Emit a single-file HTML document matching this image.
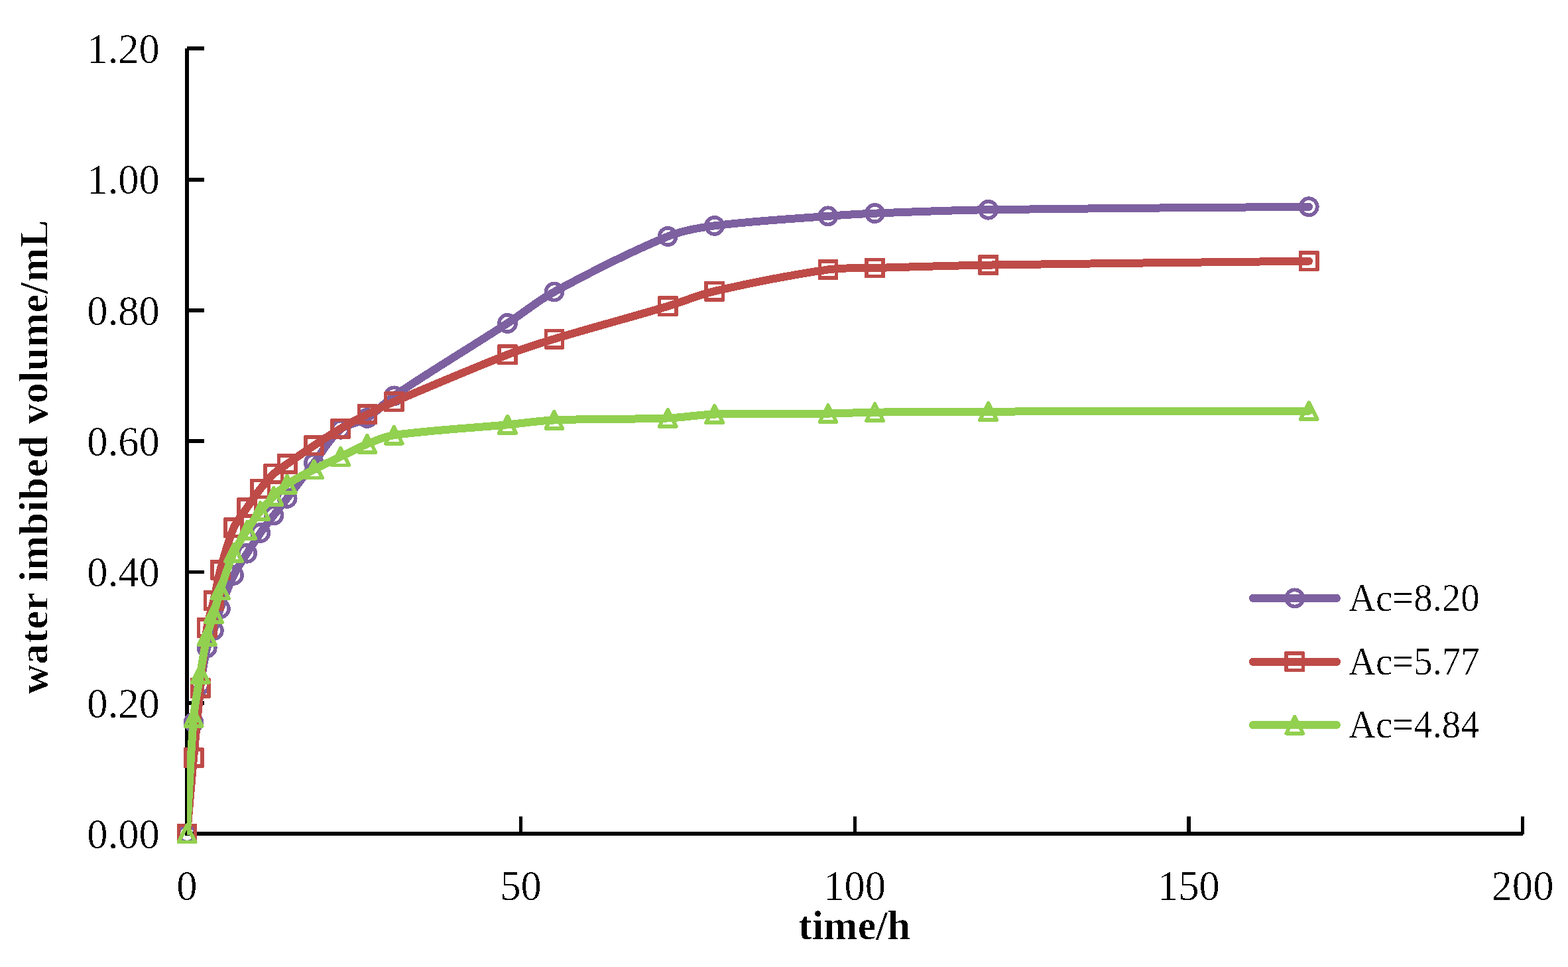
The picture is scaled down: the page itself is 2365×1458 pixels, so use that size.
<!DOCTYPE html>
<html lang="en"><head><meta charset="utf-8"><title>water imbibed volume vs time</title>
<style>html,body{margin:0;padding:0;background:#fff;}body{width:2365px;height:1458px;overflow:hidden;}svg{display:block;}text{font-family:"Liberation Serif",serif;fill:#000;}.tick,.leg{filter:url(#bin);}.title{filter:url(#binb);}.tick{font-size:62.6px;}.title{font-size:62.0px;font-weight:bold;}.leg{font-size:57.0px;}</style>
</head><body>
<svg role="img" aria-label="Line chart of water imbibed volume versus time" width="2365" height="1458" viewBox="0 0 2365 1458">
<rect width="2365" height="1458" fill="#fff"/>
<g fill="#000" shape-rendering="crispEdges">
<rect x="279" y="73" width="6" height="1187"/>
<rect x="279" y="1254" width="2018" height="6"/>
<rect x="282" y="70" width="26" height="6"/>
<rect x="282" y="268" width="26" height="6"/>
<rect x="282" y="465" width="26" height="6"/>
<rect x="282" y="662" width="26" height="6"/>
<rect x="282" y="860" width="26" height="5"/>
<rect x="282" y="1057" width="26" height="6"/>
<rect x="783" y="1231" width="5" height="27"/>
<rect x="1287" y="1231" width="5" height="27"/>
<rect x="1790" y="1231" width="6" height="27"/>
<rect x="2294" y="1231" width="5" height="27"/>
</g>
<text class="tick" transform="translate(240.9 1278.8) scale(1 1.000)" text-anchor="end">0.00</text>
<text class="tick" transform="translate(240.9 1081.5) scale(1 1.000)" text-anchor="end">0.20</text>
<text class="tick" transform="translate(240.9 884.1) scale(1 1.000)" text-anchor="end">0.40</text>
<text class="tick" transform="translate(240.9 686.8) scale(1 1.000)" text-anchor="end">0.60</text>
<text class="tick" transform="translate(240.9 489.5) scale(1 1.000)" text-anchor="end">0.80</text>
<text class="tick" transform="translate(240.9 292.1) scale(1 1.000)" text-anchor="end">1.00</text>
<text class="tick" transform="translate(240.9 94.8) scale(1 1.000)" text-anchor="end">1.20</text>
<text class="tick" transform="translate(282.0 1356.6) scale(1 1.000)" text-anchor="middle">0</text>
<text class="tick" transform="translate(785.6 1356.6) scale(1 1.000)" text-anchor="middle">50</text>
<text class="tick" transform="translate(1289.2 1356.6) scale(1 1.000)" text-anchor="middle">100</text>
<text class="tick" transform="translate(1792.9 1356.6) scale(1 1.000)" text-anchor="middle">150</text>
<text class="tick" transform="translate(2296.5 1356.6) scale(1 1.000)" text-anchor="middle">200</text>
<text class="title" x="1288.5" y="1415.8" text-anchor="middle">time/h</text>
<text class="title" transform="translate(71.6 689) rotate(-90)" text-anchor="middle" style="letter-spacing:0.62px">water imbibed volume/mL</text>
<defs><filter id="bin" x="-5%" y="-20%" width="110%" height="140%" color-interpolation-filters="sRGB"><feComponentTransfer><feFuncA type="discrete" tableValues="0 0 0 1"/></feComponentTransfer></filter><filter id="binb" x="-5%" y="-20%" width="110%" height="140%" color-interpolation-filters="sRGB"><feComponentTransfer><feFuncA type="discrete" tableValues="0 0 0 0 1"/></feComponentTransfer></filter></defs>
<defs><clipPath id="plot"><rect x="282.1" y="0" width="2100" height="1258.9"/></clipPath></defs>
<g shape-rendering="crispEdges">
<path clip-path="url(#plot)" d="M282.00 1257.00 C282.00 1257.00 287.06 1144.98 292.07 1089.27 C293.78 1070.32 298.78 1051.77 302.14 1033.03 C305.50 1014.34 307.73 995.35 312.22 976.98 C314.44 967.89 319.26 959.53 322.29 950.64 C325.97 939.83 328.47 928.61 332.36 917.88 C338.55 900.82 344.66 883.57 352.51 867.27 C358.09 855.68 365.76 845.12 372.65 834.21 C379.19 823.87 385.77 813.53 392.80 803.53 C399.20 794.42 406.14 785.70 412.94 776.89 C419.57 768.30 426.49 759.94 433.09 751.33 C446.63 733.66 459.75 715.66 473.38 698.05 C486.61 680.96 497.61 660.71 513.67 647.24 C524.47 638.18 541.76 638.09 553.96 630.47 C568.62 621.31 579.79 606.70 594.25 596.92 C650.30 559.01 708.65 524.28 765.48 487.40 C789.23 471.99 811.14 453.50 835.99 440.04 C891.72 409.85 948.81 380.55 1007.22 356.47 C1029.39 347.33 1053.86 343.41 1077.73 340.39 C1134.44 333.21 1191.85 330.31 1248.96 325.88 C1272.43 324.06 1295.94 322.58 1319.47 321.64 C1376.52 319.36 1433.60 317.07 1490.70 316.21 C1651.84 313.78 1974.18 311.77 1974.18 311.77" fill="none" stroke="#7D60A0" stroke-width="12.0" stroke-linecap="round" stroke-linejoin="round"/>
<circle cx="282.00" cy="1257.00" r="12.65" fill="none" stroke="#7D60A0" stroke-width="5.60"/>
<circle cx="292.07" cy="1089.27" r="12.65" fill="none" stroke="#7D60A0" stroke-width="5.60"/>
<circle cx="302.14" cy="1033.03" r="12.65" fill="none" stroke="#7D60A0" stroke-width="5.60"/>
<circle cx="312.22" cy="976.98" r="12.65" fill="none" stroke="#7D60A0" stroke-width="5.60"/>
<circle cx="322.29" cy="950.64" r="12.65" fill="none" stroke="#7D60A0" stroke-width="5.60"/>
<circle cx="332.36" cy="917.88" r="12.65" fill="none" stroke="#7D60A0" stroke-width="5.60"/>
<circle cx="352.51" cy="867.27" r="12.65" fill="none" stroke="#7D60A0" stroke-width="5.60"/>
<circle cx="372.65" cy="834.21" r="12.65" fill="none" stroke="#7D60A0" stroke-width="5.60"/>
<circle cx="392.80" cy="803.53" r="12.65" fill="none" stroke="#7D60A0" stroke-width="5.60"/>
<circle cx="412.94" cy="776.89" r="12.65" fill="none" stroke="#7D60A0" stroke-width="5.60"/>
<circle cx="433.09" cy="751.33" r="12.65" fill="none" stroke="#7D60A0" stroke-width="5.60"/>
<circle cx="473.38" cy="698.05" r="12.65" fill="none" stroke="#7D60A0" stroke-width="5.60"/>
<circle cx="513.67" cy="647.24" r="12.65" fill="none" stroke="#7D60A0" stroke-width="5.60"/>
<circle cx="553.96" cy="630.47" r="12.65" fill="none" stroke="#7D60A0" stroke-width="5.60"/>
<circle cx="594.25" cy="596.92" r="12.65" fill="none" stroke="#7D60A0" stroke-width="5.60"/>
<circle cx="765.48" cy="487.40" r="12.65" fill="none" stroke="#7D60A0" stroke-width="5.60"/>
<circle cx="835.99" cy="440.04" r="12.65" fill="none" stroke="#7D60A0" stroke-width="5.60"/>
<circle cx="1007.22" cy="356.47" r="12.65" fill="none" stroke="#7D60A0" stroke-width="5.60"/>
<circle cx="1077.73" cy="340.39" r="12.65" fill="none" stroke="#7D60A0" stroke-width="5.60"/>
<circle cx="1248.96" cy="325.88" r="12.65" fill="none" stroke="#7D60A0" stroke-width="5.60"/>
<circle cx="1319.47" cy="321.64" r="12.65" fill="none" stroke="#7D60A0" stroke-width="5.60"/>
<circle cx="1490.70" cy="316.21" r="12.65" fill="none" stroke="#7D60A0" stroke-width="5.60"/>
<circle cx="1974.18" cy="311.77" r="12.65" fill="none" stroke="#7D60A0" stroke-width="5.60"/>
</g>
<g shape-rendering="crispEdges">
<path clip-path="url(#plot)" d="M282.00 1257.00 C282.00 1257.00 288.57 1180.68 292.07 1142.55 C295.29 1107.51 298.55 1072.47 302.14 1037.47 C305.26 1007.15 307.63 976.67 312.22 946.59 C314.34 932.69 319.12 919.27 322.29 905.55 C325.83 890.20 328.18 874.55 332.36 859.37 C338.26 837.97 343.83 816.07 352.51 795.83 C357.26 784.76 365.78 775.47 372.65 765.44 C379.21 755.87 385.62 746.13 392.80 737.03 C399.05 729.09 405.58 721.19 412.94 714.33 C419.01 708.69 426.27 704.32 433.09 699.53 C446.41 690.18 459.80 680.89 473.38 671.91 C486.66 663.13 499.95 654.32 513.67 646.25 C526.81 638.53 540.33 631.39 553.96 624.55 C567.19 617.90 580.61 611.59 594.25 605.80 C651.12 581.66 707.97 557.29 765.48 534.76 C788.55 525.72 812.26 518.25 835.99 511.08 C892.84 493.91 950.30 478.71 1007.22 461.75 C1030.88 454.70 1053.70 444.55 1077.73 439.05 C1134.28 426.13 1191.60 414.80 1248.96 406.49 C1272.18 403.13 1295.96 404.70 1319.47 404.03 C1376.54 402.40 1433.61 400.49 1490.70 399.59 C1651.85 397.04 1974.18 393.67 1974.18 393.67" fill="none" stroke="#BE4B48" stroke-width="12.0" stroke-linecap="round" stroke-linejoin="round"/>
<path fill-rule="evenodd" fill="#BE4B48" d="M267.55 1241.55 H296.45 L297.45 1242.55 V1271.45 L296.45 1272.45 H267.55 L266.55 1271.45 V1242.55 Z M272.15 1247.15 H291.85 V1266.85 H272.15 Z"/>
<path fill-rule="evenodd" fill="#BE4B48" d="M277.62 1127.10 H306.52 L307.52 1128.10 V1157.00 L306.52 1158.00 H277.62 L276.62 1157.00 V1128.10 Z M282.22 1132.70 H301.92 V1152.40 H282.22 Z"/>
<path fill-rule="evenodd" fill="#BE4B48" d="M287.69 1022.02 H316.59 L317.59 1023.02 V1051.92 L316.59 1052.92 H287.69 L286.69 1051.92 V1023.02 Z M292.29 1027.62 H312.00 V1047.32 H292.29 Z"/>
<path fill-rule="evenodd" fill="#BE4B48" d="M297.77 931.14 H326.67 L327.67 932.14 V961.04 L326.67 962.04 H297.77 L296.77 961.04 V932.14 Z M302.37 936.74 H322.07 V956.44 H302.37 Z"/>
<path fill-rule="evenodd" fill="#BE4B48" d="M307.84 890.10 H336.74 L337.74 891.10 V920.00 L336.74 921.00 H307.84 L306.84 920.00 V891.10 Z M312.44 895.70 H332.14 V915.40 H312.44 Z"/>
<path fill-rule="evenodd" fill="#BE4B48" d="M317.91 843.92 H346.81 L347.81 844.92 V873.82 L346.81 874.82 H317.91 L316.91 873.82 V844.92 Z M322.51 849.52 H342.21 V869.22 H322.51 Z"/>
<path fill-rule="evenodd" fill="#BE4B48" d="M338.06 780.38 H366.96 L367.96 781.38 V810.28 L366.96 811.28 H338.06 L337.06 810.28 V781.38 Z M342.66 785.98 H362.36 V805.68 H342.66 Z"/>
<path fill-rule="evenodd" fill="#BE4B48" d="M358.20 749.99 H387.10 L388.10 750.99 V779.89 L387.10 780.89 H358.20 L357.20 779.89 V750.99 Z M362.80 755.59 H382.50 V775.29 H362.80 Z"/>
<path fill-rule="evenodd" fill="#BE4B48" d="M378.35 721.58 H407.25 L408.25 722.58 V751.48 L407.25 752.48 H378.35 L377.35 751.48 V722.58 Z M382.95 727.18 H402.65 V746.88 H382.95 Z"/>
<path fill-rule="evenodd" fill="#BE4B48" d="M398.49 698.88 H427.39 L428.39 699.88 V728.78 L427.39 729.78 H398.49 L397.49 728.78 V699.88 Z M403.09 704.48 H422.79 V724.18 H403.09 Z"/>
<path fill-rule="evenodd" fill="#BE4B48" d="M418.64 684.08 H447.54 L448.54 685.08 V713.98 L447.54 714.98 H418.64 L417.64 713.98 V685.08 Z M423.24 689.68 H442.94 V709.38 H423.24 Z"/>
<path fill-rule="evenodd" fill="#BE4B48" d="M458.93 656.46 H487.83 L488.83 657.46 V686.36 L487.83 687.36 H458.93 L457.93 686.36 V657.46 Z M463.53 662.06 H483.23 V681.76 H463.53 Z"/>
<path fill-rule="evenodd" fill="#BE4B48" d="M499.22 630.80 H528.12 L529.12 631.80 V660.70 L528.12 661.70 H499.22 L498.22 660.70 V631.80 Z M503.82 636.40 H523.52 V656.10 H503.82 Z"/>
<path fill-rule="evenodd" fill="#BE4B48" d="M539.51 609.10 H568.41 L569.41 610.10 V639.00 L568.41 640.00 H539.51 L538.51 639.00 V610.10 Z M544.11 614.70 H563.81 V634.40 H544.11 Z"/>
<path fill-rule="evenodd" fill="#BE4B48" d="M579.80 590.35 H608.70 L609.70 591.35 V620.25 L608.70 621.25 H579.80 L578.80 620.25 V591.35 Z M584.40 595.95 H604.10 V615.65 H584.40 Z"/>
<path fill-rule="evenodd" fill="#BE4B48" d="M751.03 519.31 H779.93 L780.93 520.31 V549.21 L779.93 550.21 H751.03 L750.03 549.21 V520.31 Z M755.63 524.91 H775.33 V544.61 H755.63 Z"/>
<path fill-rule="evenodd" fill="#BE4B48" d="M821.54 495.63 H850.44 L851.44 496.63 V525.53 L850.44 526.53 H821.54 L820.54 525.53 V496.63 Z M826.14 501.23 H845.84 V520.93 H826.14 Z"/>
<path fill-rule="evenodd" fill="#BE4B48" d="M992.77 446.30 H1021.67 L1022.67 447.30 V476.20 L1021.67 477.20 H992.77 L991.77 476.20 V447.30 Z M997.37 451.90 H1017.07 V471.60 H997.37 Z"/>
<path fill-rule="evenodd" fill="#BE4B48" d="M1063.28 423.60 H1092.18 L1093.18 424.60 V453.50 L1092.18 454.50 H1063.28 L1062.28 453.50 V424.60 Z M1067.88 429.20 H1087.58 V448.90 H1067.88 Z"/>
<path fill-rule="evenodd" fill="#BE4B48" d="M1234.51 391.04 H1263.41 L1264.41 392.04 V420.94 L1263.41 421.94 H1234.51 L1233.51 420.94 V392.04 Z M1239.11 396.64 H1258.81 V416.34 H1239.11 Z"/>
<path fill-rule="evenodd" fill="#BE4B48" d="M1305.02 388.58 H1333.92 L1334.92 389.58 V418.48 L1333.92 419.48 H1305.02 L1304.02 418.48 V389.58 Z M1309.62 394.18 H1329.32 V413.88 H1309.62 Z"/>
<path fill-rule="evenodd" fill="#BE4B48" d="M1476.25 384.14 H1505.15 L1506.15 385.14 V414.04 L1505.15 415.04 H1476.25 L1475.25 414.04 V385.14 Z M1480.85 389.74 H1500.55 V409.44 H1480.85 Z"/>
<path fill-rule="evenodd" fill="#BE4B48" d="M1959.73 378.22 H1988.63 L1989.63 379.22 V408.12 L1988.63 409.12 H1959.73 L1958.73 408.12 V379.22 Z M1964.33 383.82 H1984.03 V403.52 H1964.33 Z"/>
</g>
<g shape-rendering="crispEdges">
<path clip-path="url(#plot)" d="M282.00 1257.00 C282.00 1257.00 287.21 1140.42 292.07 1082.36 C293.93 1060.17 298.54 1038.25 302.14 1016.25 C305.26 997.24 308.04 978.11 312.22 959.32 C314.76 947.88 319.02 936.85 322.29 925.58 C325.74 913.67 328.49 901.54 332.36 889.76 C338.57 870.89 344.46 851.71 352.51 833.62 C357.89 821.52 365.50 810.38 372.65 799.19 C378.93 789.37 385.56 779.70 392.80 770.57 C398.99 762.76 405.90 755.44 412.94 748.37 C419.33 741.96 425.60 735.13 433.09 730.12 C445.75 721.64 459.75 714.93 473.38 707.92 C486.61 701.12 500.24 695.09 513.67 688.68 C527.10 682.27 540.19 675.00 553.96 669.44 C567.05 664.15 580.29 658.04 594.25 656.12 C650.80 648.34 708.41 645.69 765.48 640.33 C788.99 638.13 812.41 634.39 835.99 633.43 C892.99 631.10 950.20 632.56 1007.22 630.47 C1030.78 629.60 1054.17 625.22 1077.73 624.55 C1134.75 622.92 1191.89 624.26 1248.96 623.56 C1272.47 623.27 1295.96 621.87 1319.47 621.59 C1376.54 620.89 1433.62 620.77 1490.70 620.60 C1651.86 620.11 1974.18 619.61 1974.18 619.61" fill="none" stroke="#92D050" stroke-width="12.0" stroke-linecap="round" stroke-linejoin="round"/>
<path d="M282.00 1244.35 L294.65 1269.65 L269.35 1269.65 Z" fill="none" stroke="#92D050" stroke-width="5.60" stroke-linejoin="round"/>
<path d="M292.07 1069.71 L304.72 1095.01 L279.42 1095.01 Z" fill="none" stroke="#92D050" stroke-width="5.60" stroke-linejoin="round"/>
<path d="M302.14 1003.60 L314.79 1028.90 L289.50 1028.90 Z" fill="none" stroke="#92D050" stroke-width="5.60" stroke-linejoin="round"/>
<path d="M312.22 946.67 L324.87 971.97 L299.57 971.97 Z" fill="none" stroke="#92D050" stroke-width="5.60" stroke-linejoin="round"/>
<path d="M322.29 912.93 L334.94 938.23 L309.64 938.23 Z" fill="none" stroke="#92D050" stroke-width="5.60" stroke-linejoin="round"/>
<path d="M332.36 877.11 L345.01 902.41 L319.71 902.41 Z" fill="none" stroke="#92D050" stroke-width="5.60" stroke-linejoin="round"/>
<path d="M352.51 820.97 L365.16 846.27 L339.86 846.27 Z" fill="none" stroke="#92D050" stroke-width="5.60" stroke-linejoin="round"/>
<path d="M372.65 786.54 L385.30 811.84 L360.00 811.84 Z" fill="none" stroke="#92D050" stroke-width="5.60" stroke-linejoin="round"/>
<path d="M392.80 757.92 L405.45 783.22 L380.15 783.22 Z" fill="none" stroke="#92D050" stroke-width="5.60" stroke-linejoin="round"/>
<path d="M412.94 735.72 L425.59 761.02 L400.29 761.02 Z" fill="none" stroke="#92D050" stroke-width="5.60" stroke-linejoin="round"/>
<path d="M433.09 717.47 L445.74 742.77 L420.44 742.77 Z" fill="none" stroke="#92D050" stroke-width="5.60" stroke-linejoin="round"/>
<path d="M473.38 695.27 L486.03 720.57 L460.73 720.57 Z" fill="none" stroke="#92D050" stroke-width="5.60" stroke-linejoin="round"/>
<path d="M513.67 676.03 L526.32 701.33 L501.02 701.33 Z" fill="none" stroke="#92D050" stroke-width="5.60" stroke-linejoin="round"/>
<path d="M553.96 656.79 L566.61 682.09 L541.31 682.09 Z" fill="none" stroke="#92D050" stroke-width="5.60" stroke-linejoin="round"/>
<path d="M594.25 643.47 L606.90 668.77 L581.60 668.77 Z" fill="none" stroke="#92D050" stroke-width="5.60" stroke-linejoin="round"/>
<path d="M765.48 627.68 L778.13 652.98 L752.83 652.98 Z" fill="none" stroke="#92D050" stroke-width="5.60" stroke-linejoin="round"/>
<path d="M835.99 620.78 L848.64 646.08 L823.34 646.08 Z" fill="none" stroke="#92D050" stroke-width="5.60" stroke-linejoin="round"/>
<path d="M1007.22 617.82 L1019.87 643.12 L994.57 643.12 Z" fill="none" stroke="#92D050" stroke-width="5.60" stroke-linejoin="round"/>
<path d="M1077.73 611.90 L1090.38 637.20 L1065.08 637.20 Z" fill="none" stroke="#92D050" stroke-width="5.60" stroke-linejoin="round"/>
<path d="M1248.96 610.91 L1261.61 636.21 L1236.31 636.21 Z" fill="none" stroke="#92D050" stroke-width="5.60" stroke-linejoin="round"/>
<path d="M1319.47 608.94 L1332.12 634.24 L1306.82 634.24 Z" fill="none" stroke="#92D050" stroke-width="5.60" stroke-linejoin="round"/>
<path d="M1490.70 607.95 L1503.35 633.25 L1478.05 633.25 Z" fill="none" stroke="#92D050" stroke-width="5.60" stroke-linejoin="round"/>
<path d="M1974.18 606.96 L1986.83 632.26 L1961.53 632.26 Z" fill="none" stroke="#92D050" stroke-width="5.60" stroke-linejoin="round"/>
</g>
<g shape-rendering="crispEdges">
<path d="M1890.0 901.9 H2016.0" stroke="#7D60A0" stroke-width="12.0" stroke-linecap="round" fill="none"/>
<circle cx="1952.80" cy="901.90" r="12.65" fill="none" stroke="#7D60A0" stroke-width="5.60"/>
<text class="leg" transform="translate(2034.0 921.2) scale(0.996 1.050)">Ac=8.20</text>
<path d="M1890.0 997.8 H2016.0" stroke="#BE4B48" stroke-width="12.0" stroke-linecap="round" fill="none"/>
<path fill-rule="evenodd" fill="#BE4B48" d="M1938.35 982.35 H1967.25 L1968.25 983.35 V1012.25 L1967.25 1013.25 H1938.35 L1937.35 1012.25 V983.35 Z M1942.95 987.95 H1962.65 V1007.65 H1942.95 Z"/>
<text class="leg" transform="translate(2034.0 1017.1) scale(0.996 1.050)">Ac=5.77</text>
<path d="M1890.0 1093.1 H2016.0" stroke="#92D050" stroke-width="12.0" stroke-linecap="round" fill="none"/>
<path d="M1952.80 1080.45 L1965.45 1105.75 L1940.15 1105.75 Z" fill="none" stroke="#92D050" stroke-width="5.60" stroke-linejoin="round"/>
<text class="leg" transform="translate(2034.0 1112.4) scale(0.996 1.050)">Ac=4.84</text>
</g>
</svg></body></html>
